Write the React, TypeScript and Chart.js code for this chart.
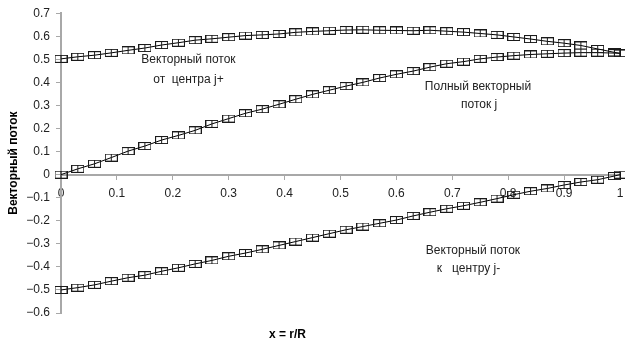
import React, { useEffect, useRef } from "react";
import { Chart, registerables } from "chart.js";

Chart.register(...registerables);

const xValues = [0, 0.03, 0.06, 0.09, 0.12, 0.15, 0.18, 0.21, 0.24, 0.27, 0.3, 0.33, 0.36, 0.39, 0.42, 0.45, 0.48, 0.51, 0.54, 0.57, 0.6, 0.63, 0.66, 0.69, 0.72, 0.75, 0.78, 0.81, 0.84, 0.87, 0.9, 0.93, 0.96, 0.99, 1.0];

const fluxOut = [0.502, 0.511, 0.518, 0.528, 0.539, 0.549, 0.562, 0.572, 0.583, 0.589, 0.596, 0.603, 0.606, 0.61, 0.617, 0.621, 0.624, 0.627, 0.628, 0.626, 0.625, 0.624, 0.626, 0.622, 0.618, 0.612, 0.606, 0.597, 0.588, 0.578, 0.57, 0.56, 0.545, 0.53, 0.526];

const fluxTotal = [0.0, 0.025, 0.047, 0.074, 0.102, 0.124, 0.15, 0.17, 0.192, 0.22, 0.243, 0.266, 0.284, 0.305, 0.327, 0.348, 0.366, 0.384, 0.4, 0.419, 0.435, 0.449, 0.466, 0.481, 0.49, 0.502, 0.51, 0.516, 0.521, 0.524, 0.527, 0.529, 0.529, 0.527, 0.526];

const fluxIn = [-0.5, -0.49, -0.478, -0.462, -0.447, -0.436, -0.419, -0.404, -0.387, -0.372, -0.354, -0.34, -0.324, -0.307, -0.29, -0.273, -0.256, -0.239, -0.225, -0.211, -0.197, -0.179, -0.163, -0.148, -0.135, -0.12, -0.104, -0.087, -0.072, -0.06, -0.045, -0.032, -0.022, -0.006, 0.0];

const xTickLabels = ["0", "0.1", "0.2", "0.3", "0.4", "0.5", "0.6", "0.7", "0.8", "0.9", "1"];

const annotations = [
  { x: 0.228, y: 0.497, text: "Векторный поток" },
  { x: 0.228, y: 0.41, text: "от  центра j+" },
  { x: 0.746, y: 0.383, text: "Полный векторный" },
  { x: 0.748, y: 0.305, text: "поток j" },
  { x: 0.737, y: -0.329, text: "Векторный поток" },
  { x: 0.729, y: -0.407, text: "к   центру j-" },
];

const xTitle = { x: 0.405, text: "x = r/R" };

const FONT = "Arial, 'Liberation Sans', sans-serif";

function makeMarker(): HTMLCanvasElement {
  const c = document.createElement("canvas");
  c.width = 13;
  c.height = 8;
  const g = c.getContext("2d")!;
  g.strokeStyle = "#1a1a1a";
  g.lineWidth = 1;
  g.strokeRect(0.5, 0.5, 12, 7);
  g.beginPath();
  g.moveTo(6.5, 0.5);
  g.lineTo(6.5, 7.5);
  g.stroke();
  return c;
}

export default function App() {
  const ref = useRef<HTMLCanvasElement | null>(null);

  useEffect(() => {
    document.body.style.margin = "0";
    const canvas = ref.current!;
    const marker = makeMarker();

    const mk = (vals: number[]) => ({
      data: xValues.map((x, i) => ({ x, y: vals[i] })),
      borderColor: "#000",
      borderWidth: 1,
      pointStyle: marker as any,
      pointRadius: 4,
      pointHoverRadius: 4,
      tension: 0,
      fill: false,
      clip: false as any,
    });

    const textPlugin = {
      id: "texts",
      afterDraw(chart: any) {
        const ctx = chart.ctx;
        const xs = chart.scales.x;
        const ys = chart.scales.y;
        ctx.save();
        ctx.fillStyle = "#222";
        ctx.font = `12px ${FONT}`;
        ctx.textAlign = "center";
        ctx.textBaseline = "middle";
        for (const a of annotations) {
          ctx.fillText(a.text, xs.getPixelForValue(a.x), ys.getPixelForValue(a.y));
        }
        ctx.fillStyle = "#000";
        ctx.font = `bold 12px ${FONT}`;
        ctx.fillText(xTitle.text, xs.getPixelForValue(xTitle.x), chart.chartArea.bottom + 22);
        ctx.restore();
      },
    };

    const chart = new Chart(canvas, {
      type: "line",
      data: {
        datasets: [mk(fluxOut), mk(fluxTotal), mk(fluxIn)],
      },
      options: {
        animation: false,
        responsive: false,
        events: [],
        layout: { padding: { top: 9, right: 3, bottom: 36, left: 0 } },
        plugins: {
          legend: { display: false },
          tooltip: { enabled: false },
        },
        scales: {
          x: {
            type: "linear",
            position: { y: 0 } as any,
            min: 0,
            max: 1,
            afterFit: (s: any) => {
              s.paddingRight = 0;
              s.paddingLeft = 0;
            },
            ticks: {
              stepSize: 0.1,
              color: "#222",
              font: { size: 12, family: FONT },
              padding: 8,
              maxRotation: 0,
              callback: (_v: any, i: number) => xTickLabels[i],
            },
            grid: {
              drawOnChartArea: false,
              drawTicks: true,
              tickLength: 4,
              color: "#a8a8a8",
            },
            border: { color: "#a8a8a8", width: 2 },
          },
          y: {
            type: "linear",
            min: -0.6,
            max: 0.7,
            afterFit: (s: any) => {
              s.width = 61;
            },
            ticks: {
              stepSize: 0.1,
              color: "#222",
              font: { size: 12, family: FONT },
              padding: 6,
              callback: (v: any) => {
                const n = Number(Number(v).toFixed(1));
                return n < 0 ? "\u2212" + Math.abs(n).toString() : n.toString();
              },
            },
            grid: {
              drawOnChartArea: false,
              drawTicks: true,
              tickLength: 5,
              color: "#a8a8a8",
            },
            border: { color: "#a8a8a8", width: 2 },
            title: {
              display: true,
              text: "Векторный поток",
              color: "#000",
              font: { size: 12, weight: "bold", family: FONT },
              padding: { top: 6, bottom: 0 },
            },
          },
        },
      },
      plugins: [textPlugin],
    });

    return () => chart.destroy();
  }, []);

  return <canvas ref={ref} width={625} height={349} style={{ display: "block" }} />;
}
